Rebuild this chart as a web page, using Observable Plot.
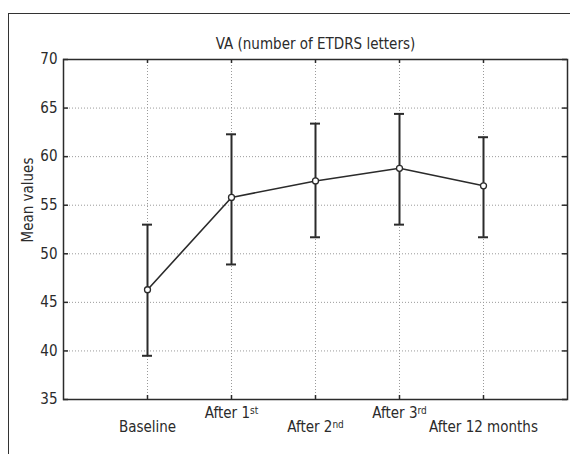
<!DOCTYPE html>
<html>
<head>
<meta charset="utf-8">
<script src="https://cdn.jsdelivr.net/npm/d3@7"></script>
<script src="https://cdn.jsdelivr.net/npm/@observablehq/plot@0.6"></script>
<style>
  html, body { margin: 0; padding: 0; background: #fff; }
  #wrap { position: relative; width: 570px; height: 454px; overflow: hidden; }
  #outer { position: absolute; left: 8px; top: 13px; width: 600px; height: 500px;
           border-left: 1.5px solid #333; border-top: 1.5px solid #333; }
  #chart { position: absolute; left: 0; top: 0; }
  svg text { font-family: "Liberation Sans Narrow", "DejaVu Sans Condensed", "Roboto", sans-serif; font-stretch: condensed; }
</style>
</head>
<body>
<div id="wrap"><div id="outer"></div><div id="chart"></div></div>
<script>
const categories = ["Baseline", "After 1st", "After 2nd", "After 3rd", "After 12 months"];
const meanValues = [46.3, 55.8, 57.5, 58.8, 57.0];
const upperValues = [53.0, 62.3, 63.4, 64.4, 62.0];
const lowerValues = [39.5, 48.9, 51.7, 53.0, 51.7];
const yTicks = [35, 40, 45, 50, 55, 60, 65, 70];
const title = "VA (number of ETDRS letters)";
const yLabel = "Mean values";

const data = categories.map((c, i) => ({cat: c, mean: meanValues[i], hi: upperValues[i], lo: lowerValues[i], row: i % 2}));
const dark = "#2b2b2b";
const grid = {stroke: "#9a9a9a", strokeDasharray: "1,2", strokeWidth: 1};

const chart = Plot.plot({
  width: 570,
  height: 454,
  marginLeft: 63,
  marginRight: 3,
  marginTop: 59,
  marginBottom: 55,
  style: {fontSize: "15px", color: dark, background: "transparent"},
  x: {type: "point", domain: categories, padding: 1, axis: null},
  y: {domain: [35, 70], axis: null},
  marks: [
    Plot.ruleX(categories, {x: d => d, ...grid}),
    Plot.ruleY(yTicks.slice(1, -1), {y: d => d, ...grid}),
    // inner tick marks
    Plot.ruleY(yTicks, {y: d => d, insetRight: 499, stroke: dark, strokeWidth: 1.5}),
    Plot.ruleY(yTicks, {y: d => d, insetLeft: 499, stroke: dark, strokeWidth: 1.5}),
    Plot.ruleX(categories, {x: d => d, insetBottom: 336, stroke: dark, strokeWidth: 1.5}),
    Plot.ruleX(categories, {x: d => d, insetTop: 336, stroke: dark, strokeWidth: 1.5}),
    Plot.frame({stroke: dark, strokeWidth: 1.5}),
    Plot.axisY(yTicks, {tickSize: 0, tickPadding: 6, fontSize: 15, fill: dark}),
    // x labels, staggered
    Plot.text(data, {x: "cat", text: "cat", frameAnchor: "bottom", lineAnchor: "middle", fontSize: 15, fill: dark,
      filter: d => d.row === 1, dy: 14}),
    Plot.text(data, {x: "cat", text: "cat", frameAnchor: "bottom", lineAnchor: "middle", fontSize: 15, fill: dark,
      filter: d => d.row === 0, dy: 28}),
    // error bars
    Plot.ruleX(data, {x: "cat", y1: "lo", y2: "hi", stroke: dark, strokeWidth: 2}),
    Plot.ruleY(data, {x1: "cat", x2: "cat", y: "hi", insetLeft: -5, insetRight: -5, stroke: dark, strokeWidth: 2}),
    Plot.ruleY(data, {x1: "cat", x2: "cat", y: "lo", insetLeft: -5, insetRight: -5, stroke: dark, strokeWidth: 2}),
    Plot.line(data, {x: "cat", y: "mean", stroke: dark, strokeWidth: 1.6}),
    Plot.dot(data, {x: "cat", y: "mean", r: 3, fill: "white", stroke: dark, strokeWidth: 1.3}),
    Plot.text([title], {frameAnchor: "top", dy: -15, lineAnchor: "middle", fontSize: 15, fill: dark}),
    Plot.text([yLabel], {frameAnchor: "left", dx: -35, dy: 13, rotate: -90, lineAnchor: "middle", fontSize: 15, fill: dark})
  ]
});

// superscripts for ordinal suffixes
d3.select(chart).selectAll("text").each(function() {
  const t = this.textContent;
  const m = /^(After \d)(st|nd|rd)$/.exec(t);
  if (m) {
    const sel = d3.select(this);
    sel.text(null);
    sel.append("tspan").text(m[1]);
    sel.append("tspan").attr("dy", "-0.45em").attr("font-size", "10px").text(m[2]);
  }
});

document.getElementById("chart").appendChild(chart);
</script>
</body>
</html>
